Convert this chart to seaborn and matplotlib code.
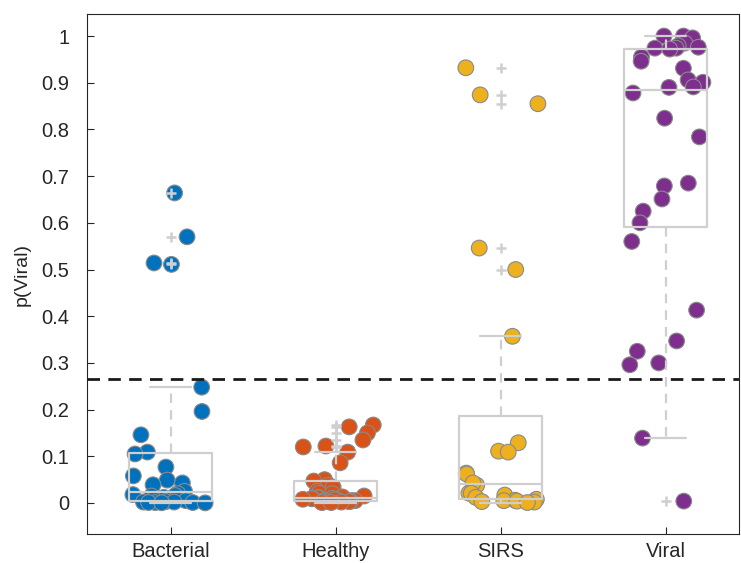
import numpy as np
import pandas as pd
import matplotlib
matplotlib.use("Agg")
import matplotlib.pyplot as plt
import seaborn as sns

# ---- data ----
categories = ["Bacterial", "Healthy", "SIRS", "Viral"]
bacterial = [0.664, 0.570, 0.514, 0.511, 0.248, 0.196, 0.146, 0.109, 0.105, 0.077,
             0.058, 0.049, 0.043, 0.039, 0.025, 0.020, 0.018, 0.016, 0.015, 0.012,
             0.008, 0.005, 0.003, 0.002, 0.002, 0.001, 0.001, 0.001, 0.0005, 0.0003]
healthy = [0.167, 0.163, 0.150, 0.135, 0.122, 0.120, 0.109, 0.086, 0.050, 0.047,
           0.038, 0.034, 0.025, 0.021, 0.020, 0.015, 0.013, 0.012, 0.011, 0.010,
           0.010, 0.009, 0.008, 0.008, 0.007, 0.006, 0.005, 0.005, 0.004, 0.004,
           0.003, 0.003, 0.002, 0.002, 0.001, 0.001]
sirs = [0.932, 0.874, 0.855, 0.546, 0.500, 0.357, 0.129, 0.111, 0.109, 0.064,
        0.062, 0.038, 0.043, 0.021, 0.021, 0.017, 0.012, 0.008, 0.006, 0.005,
        0.004, 0.003, 0.002, 0.001]
viral = [1.000, 1.000, 0.996, 0.985, 0.979, 0.976, 0.974, 0.974, 0.972, 0.955,
         0.946, 0.931, 0.906, 0.901, 0.891, 0.890, 0.878, 0.824, 0.784, 0.685,
         0.679, 0.651, 0.625, 0.600, 0.560, 0.413, 0.347, 0.325, 0.300, 0.296,
         0.139, 0.004]
threshold = 0.2655
ytick_values = [0, 0.1, 0.2, 0.3, 0.4, 0.5, 0.6, 0.7, 0.8, 0.9, 1]
ytick_labels = ["0", "0.1", "0.2", "0.3", "0.4", "0.5", "0.6", "0.7", "0.8", "0.9", "1"]
colors = ["#0072BD", "#D95319", "#EDB120", "#7E2F8E"]

groups = [bacterial, healthy, sirs, viral]
df = pd.DataFrame({
    "group": np.concatenate([[c] * len(v) for c, v in zip(categories, groups)]),
    "value": np.concatenate(groups),
})

sns.set_theme(style="white")
plt.rcParams["font.family"] = ["Liberation Sans", "DejaVu Sans"]

fig = plt.figure(figsize=(7.41, 5.63), dpi=100)
ax = fig.add_axes([0.118, 0.0515, 0.879, 0.9235])

np.random.seed(3)
sns.stripplot(data=df, x="group", y="value", hue="group", order=categories,
              hue_order=categories, palette=colors, jitter=0.24, size=11.3,
              edgecolor="#8a8a8a", linewidth=0.8, legend=False, zorder=2, ax=ax)

box_gray = "#cfcfcf"
sns.boxplot(data=df, x="group", y="value", order=categories, fill=False,
            color=box_gray, linecolor=box_gray, linewidth=1.6, width=0.5, whis=1.5,
            whiskerprops=dict(linestyle=(0, (4.3, 3.2))),
            flierprops=dict(marker="+", markersize=7, markeredgewidth=1.8,
                            markeredgecolor=box_gray),
            zorder=3, ax=ax)

ax.axhline(threshold, color="#1a1a1a", lw=2.0, ls=(0, (4.5, 3.0)), zorder=4)

ax.set_xlim(-0.504, 3.444)
ax.set_ylim(-0.0664, 1.047)
ax.set_yticks(ytick_values)
ax.set_yticklabels(ytick_labels)
ax.set_xlabel("")
ax.set_ylabel("p(Viral)", fontsize=14, color="#262626", labelpad=8)
ax.tick_params(axis="both", direction="in", length=5, width=0.8, colors="#262626",
               labelsize=14.5, pad=6)
ax.tick_params(axis="y", left=True, right=False, pad=13)
ax.tick_params(axis="x", bottom=True, top=False)
for s in ax.spines.values():
    s.set_visible(True)
    s.set_color("#262626")
    s.set_linewidth(0.8)

fig.savefig("out.png", dpi=100)
